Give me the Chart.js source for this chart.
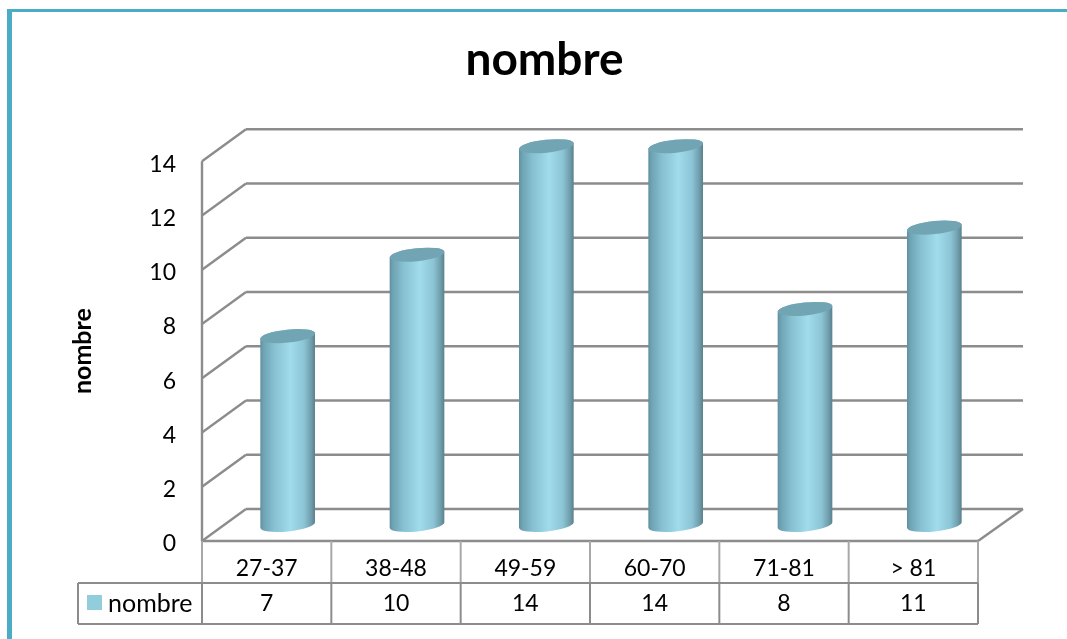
<!DOCTYPE html>
<html>
<head>
<meta charset="utf-8">
<title>nombre</title>
<script src="https://cdn.jsdelivr.net/npm/chart.js@4/dist/chart.umd.min.js"></script>
<style>
  html, body { margin: 0; background: #fff; overflow: hidden; }
  #frame {
    position: absolute; left: 7px; top: 9px; right: 0; bottom: 0;
    border-left: 5px solid #4bacc6; border-top: 3px solid #4bacc6;
  }
  #chart { position: absolute; left: 0; top: 0; }
</style>
</head>
<body>
<div id="frame"></div>
<canvas id="chart" width="1067" height="639"></canvas>
<script>
const categories = ["27-37", "38-48", "49-59", "60-70", "71-81", "> 81"];
const seriesName = "nombre";
const values = [7, 10, 14, 14, 8, 11];

const FONT = "Lato, Carlito, sans-serif";
const GRID = "#8c8c8c";
const KEY = "#92cddc";
// depth of the fake 3D floor
const DEPTH_X = 44;
const DEPTH_Y = 32;
const TABLE_TOP = 583;
const TABLE_BOTTOM = 624;
const TABLE_LEFT = 78;

function line(ctx, x1, y1, x2, y2) {
  ctx.beginPath();
  ctx.moveTo(x1, y1);
  ctx.lineTo(x2, y2);
  ctx.stroke();
}

// walls, floor and the data table under the axis
function drawFrame(chart) {
  const { ctx, chartArea: area, scales } = chart;
  ctx.save();
  ctx.strokeStyle = GRID;
  ctx.lineWidth = 2.4;
  scales.y.ticks.forEach(t => {
    const y = scales.y.getPixelForValue(t.value);
    line(ctx, area.left, y, area.left + DEPTH_X, y - DEPTH_Y);
    line(ctx, area.left + DEPTH_X, y - DEPTH_Y, area.right + DEPTH_X + 1, y - DEPTH_Y);
  });
  line(ctx, area.left, area.top, area.left, area.bottom);
  line(ctx, area.left, area.bottom, area.right, area.bottom);
  line(ctx, area.right, area.bottom, area.right + DEPTH_X + 1, area.bottom - DEPTH_Y);

  // table rules
  const edges = categories.map((c, i) => area.left + i * area.width / categories.length);
  edges.push(area.right);
  ctx.lineWidth = 2;
  ctx.strokeStyle = "#a8a8a8";
  edges.forEach(x => line(ctx, x, area.bottom, x, TABLE_TOP));
  ctx.strokeStyle = GRID;
  line(ctx, TABLE_LEFT, TABLE_TOP, area.right, TABLE_TOP);
  line(ctx, TABLE_LEFT, TABLE_BOTTOM, area.right, TABLE_BOTTOM);
  line(ctx, TABLE_LEFT, TABLE_TOP, TABLE_LEFT, TABLE_BOTTOM);
  edges.forEach(x => line(ctx, x, TABLE_TOP, x, TABLE_BOTTOM));

  // legend key and values row
  const midY = (TABLE_TOP + TABLE_BOTTOM) / 2;
  ctx.fillStyle = KEY;
  ctx.fillRect(87, 595, 15, 15);
  ctx.fillStyle = "#000";
  ctx.font = "25px " + FONT;
  ctx.textBaseline = "middle";
  ctx.textAlign = "left";
  ctx.fillText(seriesName, 108, midY);
  ctx.font = "23px " + FONT;
  ctx.textAlign = "center";
  values.forEach((v, i) => {
    ctx.fillText(String(v), scales.x.getPixelForValue(i), midY);
  });

  // value axis labels sit slightly below their gridlines
  ctx.textAlign = "right";
  scales.y.ticks.forEach(t => {
    ctx.fillText(t.label, 176, scales.y.getPixelForValue(t.value) + 3);
  });
  ctx.restore();
}

// one cylinder, sitting halfway into the floor depth
function drawCylinder(ctx, bar) {
  const r = bar.width / 2;
  const ry = 6.5;
  const tilt = -6 * Math.PI / 180;
  const cx = bar.x + DEPTH_X / 2 - 1;
  const topY = bar.y - DEPTH_Y / 2 + 1;
  const baseY = bar.base - DEPTH_Y / 2;

  const side = ctx.createLinearGradient(cx - r, 0, cx + r, 0);
  side.addColorStop(0, "#5f8f9f");
  side.addColorStop(0.06, "#6ea3b3");
  side.addColorStop(0.25, "#86c0d1");
  side.addColorStop(0.55, "#a0dcec");
  side.addColorStop(0.8, "#8cc4d5");
  side.addColorStop(0.93, "#6f9dab");
  side.addColorStop(1, "#587f8c");

  ctx.save();
  ctx.beginPath();
  ctx.ellipse(cx, baseY, r, ry, tilt, 0, Math.PI);
  ctx.ellipse(cx, topY, r, ry, tilt, Math.PI, 0);
  ctx.closePath();
  ctx.fillStyle = side;
  ctx.fill();
  ctx.beginPath();
  ctx.ellipse(cx, topY, r, ry, tilt, 0, Math.PI * 2);
  ctx.fillStyle = "#72a5b4";
  ctx.fill();
  ctx.restore();
}

const cylinder3d = {
  id: "cylinder3d",
  afterLayout(chart) {
    // main title sits a little right of the canvas padding centre
    chart.titleBlock.left += 22;
    chart.titleBlock.right += 22;
  },
  beforeDatasetsDraw(chart) {
    drawFrame(chart);
  },
  beforeDatasetDraw(chart, args) {
    args.meta.data.forEach(bar => drawCylinder(chart.ctx, bar));
    return false;
  }
};

new Chart(document.getElementById("chart"), {
  type: "bar",
  data: {
    labels: categories,
    datasets: [{
      label: seriesName,
      data: values,
      backgroundColor: KEY,
      barPercentage: 0.425,
      categoryPercentage: 1
    }]
  },
  options: {
    responsive: false,
    animation: false,
    layout: { padding: { left: 67, right: 89, top: 0, bottom: 0 } },
    plugins: {
      legend: { display: false },
      tooltip: { enabled: false },
      title: {
        display: true,
        text: seriesName,
        color: "#000",
        font: { family: FONT, size: 46, weight: "bold", lineHeight: 1.2 },
        padding: { top: 33, bottom: 73 }
      }
    },
    scales: {
      x: {
        grid: { display: false, drawTicks: false },
        border: { display: false },
        ticks: { color: "#000", font: { family: FONT, size: 23 }, padding: 14, maxRotation: 0 },
        afterFit(scale) { scale.height = 98; }
      },
      y: {
        min: 0,
        max: 14,
        grid: { display: false, drawTicks: false },
        border: { display: false },
        ticks: { stepSize: 2, display: false },
        title: {
          display: true,
          text: seriesName,
          color: "#000",
          font: { family: FONT, size: 25, weight: "bold", lineHeight: 1.2 },
          padding: { top: 1, bottom: 0 }
        },
        afterFit(scale) { scale.width = 135; }
      }
    }
  },
  plugins: [cylinder3d]
});
</script>
</body>
</html>
